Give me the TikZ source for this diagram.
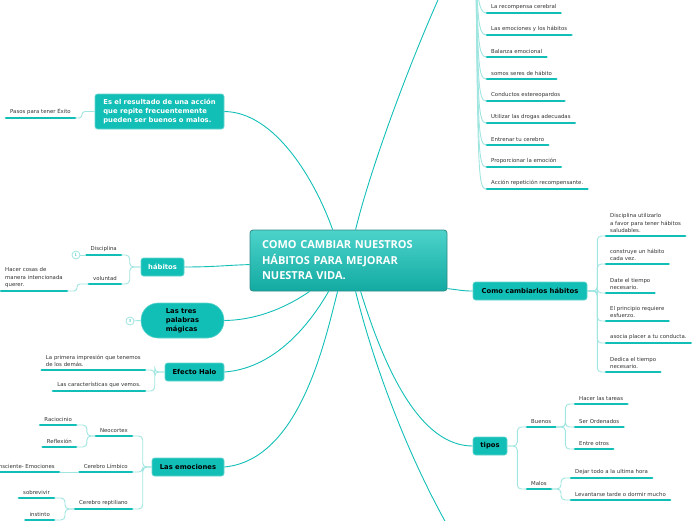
\documentclass[tikz,border=0pt]{standalone}
\usepackage{fontspec}
\setmainfont{DejaVu Sans}
\newfontfamily\titlefont{Open Sans}
\usetikzlibrary{calc}
\definecolor{tealmain}{HTML}{12BFB7}
\definecolor{tealsub}{HTML}{9FE5E0}
\definecolor{tealedge}{HTML}{62D5CE}
\definecolor{txtgray}{HTML}{333333}
\definecolor{cenTop}{HTML}{4CD3CA}
\definecolor{cenBot}{HTML}{12AAA2}
\definecolor{cenEdge}{HTML}{2E8A86}
\begin{document}
\begin{tikzpicture}[x=1pt,y=-1pt,
  mainbox/.style={draw=tealedge, line width=0.6pt, fill=tealmain, rounded corners=2.5pt,
    font=\bfseries\fontsize{6.8}{9}\selectfont, inner sep=0pt, align=left, text=black},
  centerbox/.style={draw=cenEdge, line width=0.8pt, top color=cenTop, bottom color=cenBot,
    rounded corners=3pt, font=\titlefont\bfseries\fontsize{11}{15.5}\selectfont, text=white,
    align=left, text width=173pt, inner xsep=12pt, minimum height=61pt},
  leafr/.style={anchor=south west, inner xsep=5pt, inner ysep=3pt,
    font=\fontsize{5.4}{7.4}\selectfont, text=txtgray, align=left},
  leafl/.style={leafr, anchor=south east},
  ul/.style={tealmain, line width=2.9pt, line cap=round, shorten >=1pt, shorten <=1pt},
  conn/.style={tealmain, line width=0.9pt},
  sub/.style={tealsub, line width=0.9pt, rounded corners=4pt},
  mk/.style={circle, draw=tealsub, fill=white, line width=0.8pt, minimum size=8pt, inner sep=0pt,
    font=\fontsize{4}{4}\selectfont, text=tealmain}
]
\useasboundingbox (0,0) rectangle (696,520);
\clip (0,0) rectangle (696,520);

% central node
\node[centerbox] (c) at (348.5,260.5) {COMO CAMBIAR NUESTROS\\HÁBITOS PARA MEJORAR\\NUESTRA VIDA.};

% main boxes
\node[mainbox, text=white, minimum width=129pt, minimum height=35pt] (esr) at (159.5,111.5)
  {Es el resultado de una acción\\que repite frecuentemente\\pueden ser buenos o malos.};
\node[mainbox, text=white, minimum width=43pt, minimum height=18pt] (hab) at (162.5,267) {hábitos};
\node[mainbox, rounded corners=17pt, minimum width=83pt, minimum height=35pt] (tres) at (182.5,320.5)
  {Las tres\\palabras\\mágicas};
\node[mainbox, minimum width=59pt, minimum height=18pt] (halo) at (194.5,372) {Efecto Halo};
\node[mainbox, minimum width=72pt, minimum height=18pt] (emo) at (188,467) {Las emociones};
\node[mainbox, minimum width=114pt, minimum height=18pt] (como) at (530,291) {Como cambiarlos hábitos};
\node[mainbox, minimum width=34pt, minimum height=18pt] (tipos) at (490,446) {tipos};

% off-canvas ends
\coordinate (toff) at (447,-20);
\coordinate (boff) at (450,530);
\coordinate (tr) at (476,-25);

% main connectors
\draw[conn] (esr.east) .. controls (275,112) and (315,180) .. ($(c.north west)+(83,0)$);
\draw[conn] ($(c.north west)+(106,0)$) .. controls (370,170) and (410,60) .. (toff);
\draw[conn] (hab.east) .. controls (215,267) and (230,265) .. ($(c.north west)+(0,35)$);
\draw[conn] (tres.east) .. controls (260,320) and (290,305) .. ($(c.south west)+(60,0)$);
\draw[conn] (halo.east) .. controls (280,368) and (315,315) .. ($(c.south west)+(79,0)$);
\draw[conn] (emo.east) .. controls (300,460) and (325,340) .. ($(c.south west)+(88,0)$);
\draw[conn] ($(c.south west)+(106,0)$) .. controls (375,370) and (410,460) .. (boff);
\draw[conn] ($(c.south west)+(111,0)$) .. controls (385,370) and (420,446) .. (tipos.west);
\draw[conn] ($(c.north east)+(0,59)$) .. controls (460,290) and (462,291) .. (como.west);

% ---- left: Es el resultado
\node[leafl] (pasos) at (76,118) {Pasos para tener Éxito};
\draw[ul] (pasos.south west) -- (pasos.south east);
\draw[sub, rounded corners=3pt] (pasos.south east) -- ++(6,0) |- (esr.west);

% ---- hábitos
\node[leafl] (disc) at (122,255) {Disciplina};
\node[leafl] (vol) at (122,284) {voluntad};
\node[leafr] (hacer) at (0,291) {Hacer cosas de\\manera intencionada\\querer.};
\foreach \n in {disc,vol,hacer} \draw[ul] (\n.south west) -- (\n.south east);
\draw[sub] (hab.west) -- ++(-11,0) |- (disc.south east);
\draw[sub] (hab.west) -- ++(-11,0) |- (vol.south east);
\draw[sub, rounded corners=3pt] (hacer.south east) -- ++(9,0) |- (vol.south west);
\node[mk] (m1) at (76,255) {1};
\draw[sub] (m1) -- (disc.south west);

% ---- tres palabras
\node[mk] (m3) at (130,321) {3};
\draw[sub] (m3) -- (tres.west);

% ---- Efecto Halo
\node[leafl] (pri) at (146,370) {La primera impresión que tenemos\\de los demás.};
\node[leafl] (car) at (146,391) {Las características que vemos.};
\foreach \n in {pri,car} \draw[ul] (\n.south west) -- (\n.south east);
\draw[sub] (halo.west) -- ++(-10,0) |- (pri.south east);
\draw[sub] (halo.west) -- ++(-10,0) |- (car.south east);

% ---- Las emociones
\node[leafl] (neo) at (133,436) {Neocortex};
\node[leafl] (lim) at (133,472) {Cerebro Límbico};
\node[leafl] (rep) at (133,509) {Cerebro reptiliano};
\node[leafl] (rac) at (77,425) {Raciocinio};
\node[leafl] (ref) at (77,447) {Reflexión};
\node[leafl] (inc) at (60,472) {Inconsciente- Emociones};
\node[leafl] (sob) at (55,498) {sobrevivir};
\node[leafl] (ins) at (55,520) {instinto};
\foreach \n in {neo,lim,rep,rac,ref,inc,sob,ins} \draw[ul] (\n.south west) -- (\n.south east);
\draw[sub] (emo.west) -- ++(-9,0) |- (neo.south east);
\draw[sub] (emo.west) -- ++(-9,0) |- (lim.south east);
\draw[sub] (emo.west) -- ++(-9,0) |- (rep.south east);
\draw[sub] (neo.south west) -- ++(-8,0) |- (rac.south east);
\draw[sub] (neo.south west) -- ++(-8,0) |- (ref.south east);
\draw[sub] (lim.south west) -- (inc.south east);
\draw[sub] (rep.south west) -- ++(-9,0) |- (sob.south east);
\draw[sub] (rep.south west) -- ++(-9,0) |- (ins.south east);

% ---- top right list
\foreach \nm/\yy/\tx in {t1/13/La recompensa cerebral, t2/35/Las emociones y los hábitos,
  t3/57/Balanza emocional, t4/79/somos seres de hábito, t5/101/Conductos estereopardos,
  t6/123/Utilizar las drogas adecuadas, t7/145/Entrenar tu cerebro,
  t8/167/Proporcionar la emoción, t9/189/Acción repetición recompensante.} {
  \node[leafr] (\nm) at (486,\yy) {\tx};
  \draw[sub] (tr) .. controls (478,\yy-22) and (478,\yy) .. (\nm.south west);
  \draw[ul] (\nm.south west) -- (\nm.south east);
}

% ---- Como cambiarlos hábitos
\node[leafr] (k1) at (605,236) {Disciplina utilizarlo\\a favor para tener hábitos\\saludables.};
\node[leafr] (k2) at (605,264) {construye un hábito\\cada vez.};
\node[leafr] (k3) at (605,293) {Date el tiempo\\necesario.};
\node[leafr] (k4) at (605,321) {El principio requiere\\esfuerzo.};
\node[leafr] (k5) at (605,343) {asocia placer a tu conducta.};
\node[leafr] (k6) at (605,372) {Dedica el tiempo\\necesario.};
\foreach \n in {k1,k2,k3,k4,k5,k6} {
  \draw[ul] (\n.south west) -- (\n.south east);
  \draw[sub] (como.east) -- ++(10,0) |- (\n.south west);
}

% ---- tipos
\node[leafr] (bue) at (526,427) {Buenos};
\node[leafr] (mal) at (526,489) {Malos};
\node[leafr] (b1) at (574,404) {Hacer las tareas};
\node[leafr] (b2) at (574,427) {Ser Ordenados};
\node[leafr] (b3) at (574,449) {Entre otros};
\node[leafr] (m1b) at (570,478) {Dejar todo a la ultima hora};
\node[leafr] (m2b) at (570,500) {Levantarse tarde o dormir mucho};
\foreach \n in {bue,mal,b1,b2,b3,m1b,m2b} \draw[ul] (\n.south west) -- (\n.south east);
\draw[sub] (tipos.east) -- ++(10,0) |- (bue.south west);
\draw[sub] (tipos.east) -- ++(10,0) |- (mal.south west);
\foreach \n in {b1,b2,b3} \draw[sub] (bue.south east) -- ++(9,0) |- (\n.south west);
\foreach \n in {m1b,m2b} \draw[sub] (mal.south east) -- ++(9,0) |- (\n.south west);
\end{tikzpicture}
\end{document}
